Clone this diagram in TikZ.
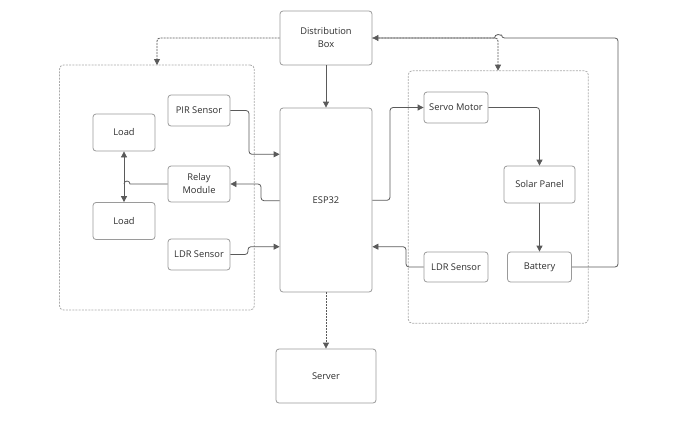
\documentclass[tikz,border=0pt]{standalone}
\usepackage{fontspec}
\setmainfont{Open Sans}
\usetikzlibrary{arrows.meta}
\definecolor{boxline}{HTML}{9A9A9A}
\definecolor{conn}{HTML}{5A5A5A}
\definecolor{txt}{HTML}{2E2E2E}
\definecolor{cont}{HTML}{ABABAB}
\begin{document}
\begin{tikzpicture}[x=1pt,y=1pt,
  box/.style={draw=boxline,line width=0.8pt,rounded corners=3pt,fill=white,text=txt,align=center,
    font=\fontsize{9.3}{13}\selectfont,inner sep=1pt},
  container/.style={draw=cont,line width=0.8pt,rounded corners=4pt,dash pattern=on 2pt off 1.2pt},
  conn/.style={draw=conn,line width=0.8pt,rounded corners=3pt,-{Triangle[length=6pt,width=6pt]}},
  dconn/.style={conn,dash pattern=on 2pt off 1pt},
  plain/.style={draw=conn,line width=0.8pt,rounded corners=3pt}]
\useasboundingbox (0,0) rectangle (679,-445);
% containers
\node[container,minimum width=194.8pt,minimum height=245pt] (leftc) at (156.9,-187.5) {};
\node[container,minimum width=180pt,minimum height=252.6pt] (rightc) at (498.3,-197) {};
% boxes
\node[box,minimum width=92pt,minimum height=54pt] (dist) at (326,-38) {Distribution\\Box};
\node[box,minimum width=92pt,minimum height=184pt] (esp) at (326,-200) {ESP32};
\node[box,minimum width=100pt,minimum height=54pt] (server) at (326,-376) {Server};
\node[box,minimum width=62pt,minimum height=37pt] (load1) at (124,-132.5) {Load};
\node[box,minimum width=62pt,minimum height=37pt] (load2) at (124,-221) {Load};
\node[box,minimum width=62pt,minimum height=31pt] (pir) at (199,-110.5) {PIR Sensor};
\node[box,minimum width=62pt,minimum height=36pt] (relay) at (199,-184) {Relay\\Module};
\node[box,minimum width=62pt,minimum height=31pt] (ldrl) at (199,-254.5) {LDR Sensor};
\node[box,minimum width=64pt,minimum height=31pt] (servo) at (456,-107.5) {Servo Motor};
\node[box,minimum width=71pt,minimum height=37pt] (solar) at (539.5,-184.5) {Solar Panel};
\node[box,minimum width=64pt,minimum height=30pt] (ldrr) at (456,-267) {LDR Sensor};
\node[box,minimum width=64pt,minimum height=30pt] (battery) at (539.5,-267) {Battery};
% helper coordinates
\coordinate (lt) at (157,-65);
\coordinate (rt) at (498,-70.7);
% connectors
\draw[dconn] (dist.west) -| (lt);
\draw[dconn] (dist.east) -| (rt);
\draw[conn] (dist.south) -- (esp.north);
\draw[dconn] (esp.south) -- (server.north);
\draw[conn] (pir.east) -- (249,-110.5) -- (249,-154.3) -- (esp.west |- 0,-154.3);
\draw[conn] (esp.west |- 0,-200.7) -- (261,-200.7) -- (261,-184) -- (relay.east);
\draw[conn] (ldrl.east) -- (248,-254.5) -- (248,-246.7) -- (esp.west |- 0,-246.7);
\draw[conn,{Triangle[length=6pt,width=6pt]}-{Triangle[length=6pt,width=6pt]}] (load1.south) -- (load2.north);
\draw[plain,rounded corners=0pt] (relay.west) -- (130,-184) arc[start angle=0,end angle=180,radius=3pt] -- (124,-184);
\draw[conn] (esp.east |- 0,-200.3) -- (390,-200.3) -- (390,-107.5) -- (servo.west);
\draw[conn] (servo.east) -| (solar.north);
\draw[conn] (solar.south) -- (battery.north);
\draw[conn] (ldrr.west) -- (406,-267) -- (406,-246.7) -- (esp.east |- 0,-246.7);
\draw[conn] (battery.east) -- (618,-267) -- (618,-38) -- (501.5,-38) [rounded corners=0pt] arc[start angle=0,end angle=180,radius=3.5pt] -- (dist.east);
\end{tikzpicture}
\end{document}
